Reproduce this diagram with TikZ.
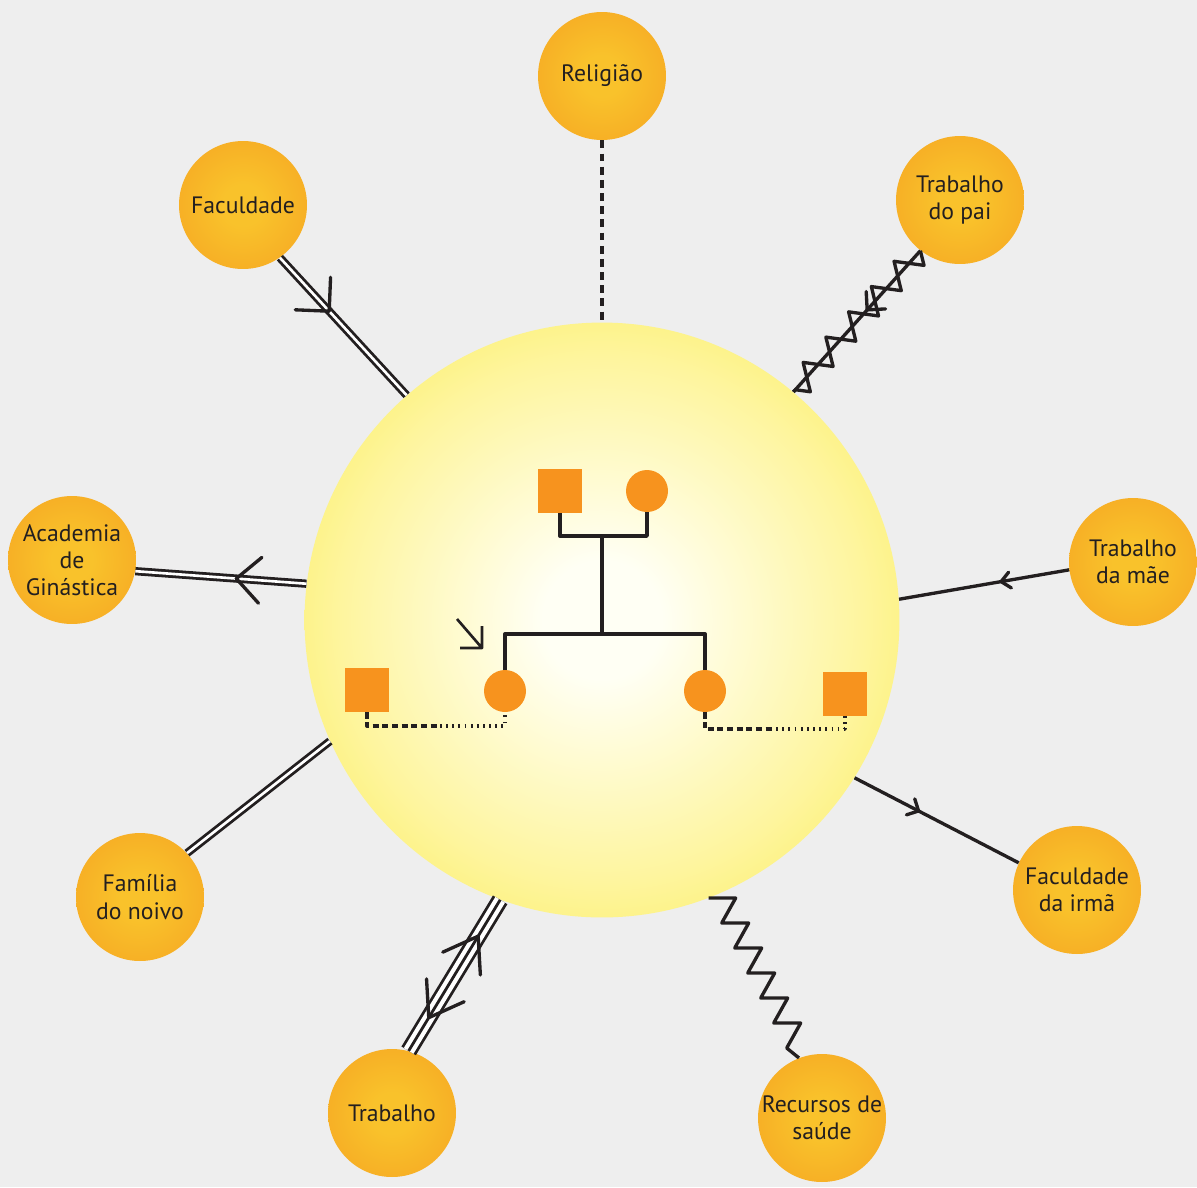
\documentclass[tikz,border=0pt]{standalone}
\usepackage{fontspec}
\setmainfont{PT Sans}
\usetikzlibrary{decorations.pathmorphing,decorations.markings}
\definecolor{paper}{HTML}{EEEEEE}
\definecolor{sunin}{HTML}{FFFFF4}
\definecolor{sunmid}{HTML}{FEF59E}
\definecolor{sunrim}{HTML}{F9EB42}
\definecolor{sunedge}{HTML}{F6E318}
\definecolor{ballin}{HTML}{F9C22B}
\definecolor{ballout}{HTML}{F3961E}
\definecolor{geno}{HTML}{F7931E}
\definecolor{ink}{HTML}{231F20}
\pgfdeclareradialshading{sunball}{\pgfpoint{0bp}{0bp}}{color(0bp)=(sunin); color(5bp)=(sunin); color(22bp)=(sunmid); color(37bp)=(sunrim); color(50bp)=(sunedge)}
\pgfdeclareradialshading{orangeball}{\pgfpoint{0bp}{0bp}}{color(0bp)=(ballin); color(8bp)=(ballin); color(50bp)=(ballout)}
\tikzset{
  place/.style={circle,minimum size=2.56cm,inner sep=0pt,align=center,shade,shading=orangeball,
    text=ink,font=\fontsize{13.5}{15.5}\selectfont},
  person/.style={fill=geno,inner sep=0pt,minimum size=0.88cm},
  male/.style={person,rectangle},
  female/.style={person,circle,minimum size=0.84cm},
  link/.style={ink,line width=1.9pt},
  dbl/.style={ink,line width=1.6pt,double=white,double distance=1.5pt},
  gline/.style={ink,line width=1.9pt},
  midbarb/.style n args={3}{postaction={decorate},decoration={markings,
    mark=at position #1 with {\draw[link,line cap=round] (#2,#3) -- (0,0) -- (#2,-#3);}}}
}

\begin{document}
\begin{tikzpicture}[x=0.02cm,y=-0.02cm,line join=round]
  % canvas 1197 x 1187 px, y grows downwards
  \fill[paper] (0,0) rectangle (1197,1187);
  \useasboundingbox (0,0) rectangle (1197,1187);

  % ---- household ----
  \node[circle,minimum size=11.9cm,inner sep=0pt,shade,shading=sunball] (sun) at (602,620) {};

  % ---- outer systems ----
  \foreach \nm/\px/\py/\txt in {relig/602/76/Religião, fac/243/205/Faculdade,
      pai/960/200/Trabalho\\do pai, acad/72/560/Academia\\de\\Ginástica,
      mae/1133/562/Trabalho\\da mãe, fam/140/897/Família\\do noivo,
      irma/1077/890/Faculdade\\da irmã, trab/392/1113/Trabalho,
      rec/822/1118/Recursos de\\saúde}{
    \node[place] (\nm) at (\px,\py) {\txt};
  }

  % ---- connectors ----
  % religion (dashed)
  \draw[link,dash pattern=on 4.5pt off 3pt] (relig.-90) -- (sun.90);
  % faculty (double, flow inwards)
  \draw[dbl] (fac.-55) -- (sun.131.6);
  \path[midbarb={0.39}{-24}{24}] (fac.-55) -- (sun.131.6);
  % father's work (conflict)
  \draw[link] (pai.-128.4) -- (sun.50.5);
  \draw[link,decorate,decoration={zigzag,amplitude=0.25cm,segment length=0.68cm}]
    (pai.-128.4) -- (sun.50.5);
  \path[midbarb={0.42}{-13}{13}] (pai.-128.4) -- (sun.50.5);
  % gym (double, flow outwards)
  \draw[dbl] (acad.-10.8) -- (sun.173.8);
  \path[midbarb={0.59}{24}{23}] (acad.-10.8) -- (sun.173.8);
  % mother's work
  \draw[link] (mae.187.2) -- (sun.4.4);
  \path[midbarb={0.4}{-9}{8}] (mae.187.2) -- (sun.4.4);
  % fiance's family
  \draw[dbl] (fam.43) -- (sun.204.3);
  % sister's faculty
  \draw[link] (irma.155) -- (sun.-32.4);
  \path[midbarb={0.61}{9}{9}] (irma.155) -- (sun.-32.4);
  % work (triple, both ways)
  \draw[ink,line width=1.6pt,double=white,double distance=6.4pt] (trab.75.7) -- (sun.250.2);
  \draw[ink,line width=1.6pt] (trab.75.7) -- (sun.250.2);
  \path[midbarb={0.76}{-32}{22}] (trab.75.7) -- (sun.250.2);
  \path[midbarb={0.22}{32}{22}] (trab.75.7) -- (sun.250.2);
  % health services (stress)
  \draw[link] (sun.-69.6) \foreach \i in {1,...,6}{ -- ++(27,0) -- ++(-14,25) } -- (rec.111.7);

  % ---- genogram ----
  \node[male] (dad) at (560,491) {};
  \node[female] (mom) at (647,491) {};
  \node[female] (ego) at (505,691) {};
  \node[female] (sis) at (705,691) {};
  \node[male] (egosp) at (367,690) {};
  \node[male] (sissp) at (845,694) {};
  \coordinate (marr) at (602,536);
  \coordinate (sibs) at (602,634);
  \draw[gline] (dad.south) |- (marr) -| (mom.south);
  \draw[gline] (marr) -- (sibs);
  \draw[gline] (ego.north) |- (sibs) -| (sis.north);
  % engagements
  \coordinate (egom) at (440,726);
  \coordinate (sism) at (770,729);
  \draw[gline,dash pattern=on 3.5pt off 2pt] (egosp.south) |- (egom);
  \draw[gline,dash pattern=on 1pt off 2.5pt] (egom) -| (ego.south);
  \draw[gline,dash pattern=on 3.5pt off 2pt] (sis.south) |- (sism);
  \draw[gline,dash pattern=on 1pt off 2.5pt] (sism) -| (sissp.south);
  % index person
  \coordinate (idxfrom) at (457,619);
  \coordinate (idxto) at (482,648);
  \draw[gline,line width=1.5pt] (idxfrom) -- (idxto) -- ++(-22,0) (idxto) -- ++(0,-22);
\end{tikzpicture}
\end{document}
